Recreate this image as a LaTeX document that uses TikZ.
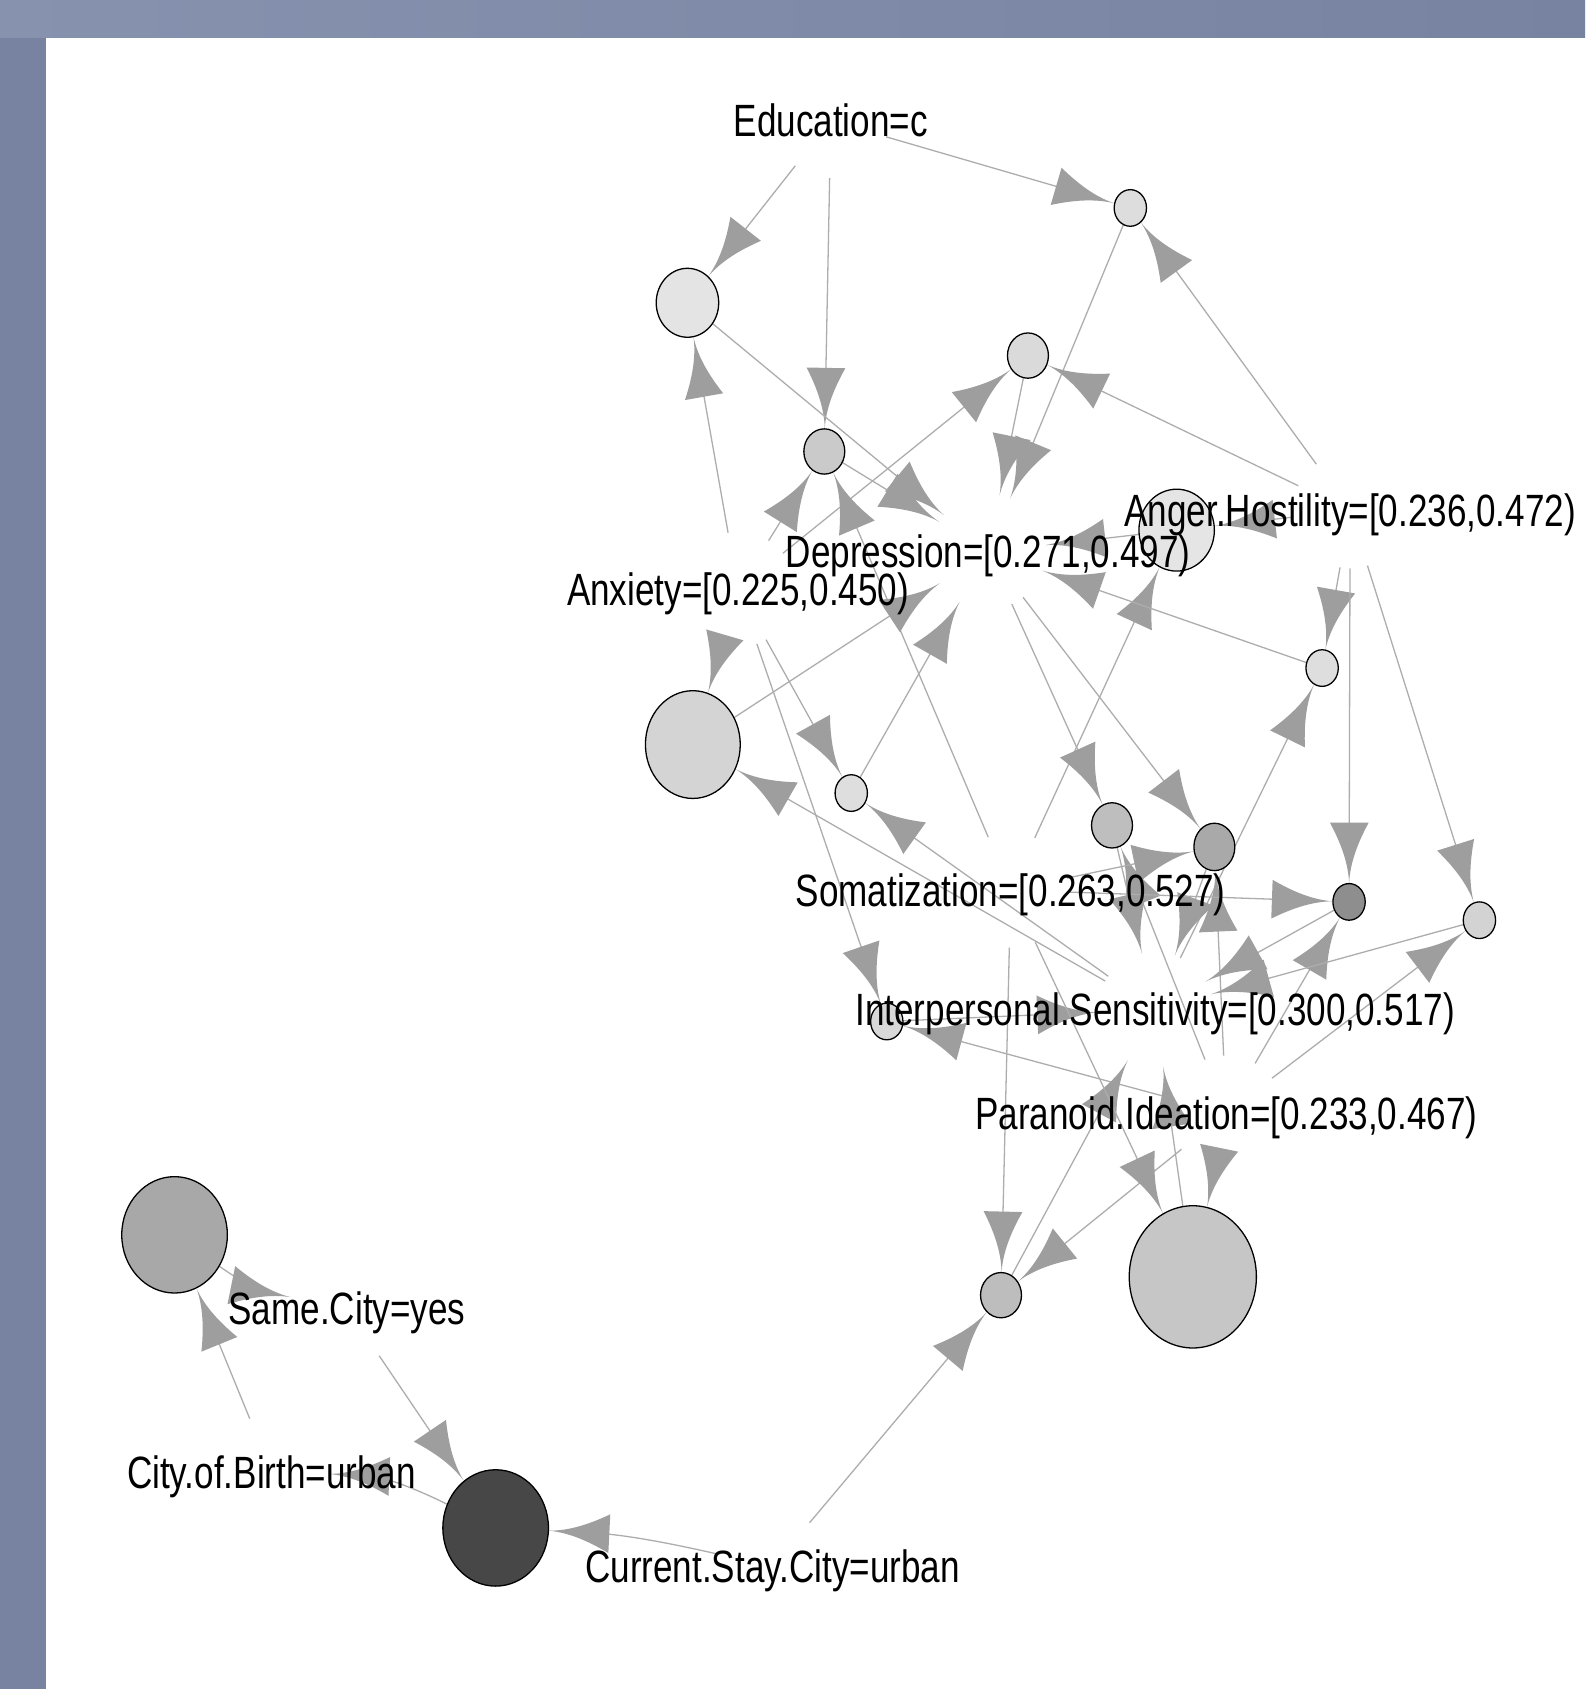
\documentclass[tikz,border=0pt]{standalone}
\usepackage{fontspec}
\newfontfamily\labfont[FakeStretch=0.775]{Liberation Sans}
\usetikzlibrary{arrows.meta,shapes.geometric}
\pgfdeclarelayer{bg}
\pgfdeclarelayer{edges}
\pgfsetlayers{bg,edges,main}
\definecolor{framecol}{HTML}{7883A2}
\definecolor{framelight}{HTML}{8792AF}
\definecolor{edgegray}{HTML}{ADADAD}
\definecolor{arrowgray}{HTML}{9E9E9E}
\pgfdeclarearrow{
  name = Para,
  parameters = {\the\pgfarrowlength,\the\pgfarrowwidth},
  setup code = {
    \pgfarrowssettipend{\pgfarrowlength}
    \pgfarrowssetbackend{0pt}
    \pgfarrowssetlineend{0.3\pgfarrowlength}
    \pgfarrowshullpoint{\pgfarrowlength}{0pt}
    \pgfarrowshullpoint{0pt}{.5\pgfarrowwidth}
    \pgfarrowshullpoint{0pt}{-.5\pgfarrowwidth}
    \pgfarrowssavethe\pgfarrowlength
    \pgfarrowssavethe\pgfarrowwidth
  },
  drawing code = {
    \pgfpathmoveto{\pgfqpoint{\pgfarrowlength}{0pt}}
    \pgfpathcurveto{\pgfqpoint{0.66\pgfarrowlength}{0.025\pgfarrowwidth}}{\pgfqpoint{0.33\pgfarrowlength}{0.225\pgfarrowwidth}}{\pgfqpoint{0pt}{0.5\pgfarrowwidth}}
    \pgfpathlineto{\pgfqpoint{0pt}{-0.5\pgfarrowwidth}}
    \pgfpathcurveto{\pgfqpoint{0.33\pgfarrowlength}{-0.225\pgfarrowwidth}}{\pgfqpoint{0.66\pgfarrowlength}{-0.025\pgfarrowwidth}}{\pgfqpoint{\pgfarrowlength}{0pt}}
    \pgfpathclose
    \pgfusepathqfill
  },
  defaults = {length = 28pt, width = 18pt}
}
\tikzset{
  rulev/.style={ellipse, draw=black, line width=0.6pt, inner sep=0pt},
  itemv/.style={circle, minimum size=53pt, inner sep=0pt, draw=none},
  lbl/.style={font=\labfont\fontsize{21}{21}\selectfont, inner sep=0pt, text height=15pt, text depth=0pt, text=black},
  conn/.style={draw=edgegray, line width=0.6pt, -{Para[color=arrowgray]}},
}
\begin{document}
\begin{tikzpicture}[x=0.5pt,y=-0.5pt]
\useasboundingbox (0,0) rectangle (1471,1567.5);
\begin{pgfonlayer}{bg}
\fill[framecol] (0,0) rectangle (1471,1567.5);
\shade[left color=framelight, right color=framecol] (0,0) rectangle (1471,35);
\fill[white] (43,35) rectangle (1471,1567.5);
\end{pgfonlayer}

% item vertices (invisible)
\node[itemv] (edu) at (771,112) {};
\node[itemv] (dep) at (917,512) {};
\node[itemv] (ang) at (1253,474) {};
\node[itemv] (anx) at (685,547) {};
\node[itemv] (som) at (938,826) {};
\node[itemv] (ips) at (1072,937) {};
\node[itemv] (par) at (1138,1033) {};
\node[itemv] (same) at (322,1214) {};
\node[itemv] (cob) at (252,1366) {};
\node[itemv] (cur) at (717,1454) {};

% rule vertices
\node[rulev, fill={rgb,255:red,228;green,228;blue,228}, minimum width=29pt, minimum height=32pt] (r1) at (638,281) {};
\node[rulev, fill={rgb,255:red,221;green,221;blue,221}, minimum width=15pt, minimum height=17pt] (r2) at (1049,193) {};
\node[rulev, fill={rgb,255:red,218;green,218;blue,218}, minimum width=19pt, minimum height=21pt] (r3) at (954,330) {};
\node[rulev, fill={rgb,255:red,202;green,202;blue,202}, minimum width=19pt, minimum height=21pt] (r4) at (765,419) {};
\node[rulev, fill={rgb,255:red,229;green,229;blue,229}, minimum width=35pt, minimum height=38pt] (r5) at (1092,492) {};
\node[rulev, fill={rgb,255:red,212;green,212;blue,212}, minimum width=44pt, minimum height=50pt] (r6) at (643,691) {};
\node[rulev, fill={rgb,255:red,222;green,222;blue,222}, minimum width=15pt, minimum height=17pt] (r7) at (790,736) {};
\node[rulev, fill={rgb,255:red,222;green,222;blue,222}, minimum width=15pt, minimum height=17pt] (r8) at (1227,620) {};
\node[rulev, fill={rgb,255:red,190;green,190;blue,190}, minimum width=19pt, minimum height=21pt] (r9) at (1032,766) {};
\node[rulev, fill={rgb,255:red,169;green,169;blue,169}, minimum width=19pt, minimum height=22pt] (r10) at (1127,786) {};
\node[rulev, fill={rgb,255:red,142;green,142;blue,142}, minimum width=15pt, minimum height=17pt] (r11) at (1252,837) {};
\node[rulev, fill={rgb,255:red,211;green,211;blue,211}, minimum width=15pt, minimum height=17pt] (r12) at (1373,854) {};
\node[rulev, fill={rgb,255:red,216;green,216;blue,216}, minimum width=15pt, minimum height=17pt] (r13) at (823,948) {};
\node[rulev, fill={rgb,255:red,189;green,189;blue,189}, minimum width=19pt, minimum height=21pt] (r14) at (929,1202) {};
\node[rulev, fill={rgb,255:red,198;green,198;blue,198}, minimum width=59pt, minimum height=66pt] (r15) at (1107,1185) {};
\node[rulev, fill={rgb,255:red,168;green,168;blue,168}, minimum width=49pt, minimum height=54pt] (r16) at (162,1146) {};
\node[rulev, fill={rgb,255:red,71;green,71;blue,71}, minimum width=49pt, minimum height=54pt] (r17) at (460,1418) {};

\begin{pgfonlayer}{edges}
\draw[conn] (edu) -- (r1);
\draw[conn] (edu) -- (r2);
\draw[conn] (edu) -- (r4);
\draw[conn] (anx) -- (r1);
\draw[conn] (r1) -- (dep);
\draw[conn] (ang) -- (r2);
\draw[conn] (r2) -- (dep);
\draw[conn] (anx) -- (r3);
\draw[conn] (ang) -- (r3);
\draw[conn] (r3) -- (dep);
\draw[conn] (anx) -- (r4);
\draw[conn] (som) -- (r4);
\draw[conn] (r4) -- (dep);
\draw[conn] (ang) -- (r5);
\draw[conn] (som) -- (r5);
\draw[conn] (r5) -- (dep);
\draw[conn] (anx) -- (r6);
\draw[conn] (ips) -- (r6);
\draw[conn] (r6) -- (dep);
\draw[conn] (anx) -- (r7);
\draw[conn] (ips) -- (r7);
\draw[conn] (r7) -- (dep);
\draw[conn] (ang) -- (r8);
\draw[conn] (ips) -- (r8);
\draw[conn] (r8) -- (dep);
\draw[conn] (dep) -- (r9);
\draw[conn] (par) -- (r9);
\draw[conn] (r9) -- (ips);
\draw[conn] (dep) -- (r10);
\draw[conn] (som) -- (r10);
\draw[conn] (par) -- (r10);
\draw[conn] (r10) -- (ips);
\draw[conn] (ang) -- (r11);
\draw[conn] (som) -- (r11);
\draw[conn] (par) -- (r11);
\draw[conn] (r11) -- (ips);
\draw[conn] (ang) -- (r12);
\draw[conn] (par) -- (r12);
\draw[conn] (r12) -- (ips);
\draw[conn] (anx) -- (r13);
\draw[conn] (par) -- (r13);
\draw[conn] (r13) -- (ips);
\draw[conn] (som) -- (r14);
\draw[conn] (par) -- (r14);
\draw[conn] (cur) -- (r14);
\draw[conn] (r14) -- (ips);
\draw[conn] (som) -- (r15);
\draw[conn] (par) -- (r15);
\draw[conn] (r15) -- (ips);
\draw[conn] (cob) -- (r16);
\draw[conn] (r16) to[bend right=12] (same);
\draw[conn] (same) -- (r17);
\draw[conn] (cur) to[bend right=5] (r17);
\draw[conn] (r17) to[bend right=12] (cob);
\end{pgfonlayer}

% labels
\node[lbl] (edu-l) at (771,112) {Education=c};
\node[lbl] (dep-l) at (917,512) {Depression=[0.271,0.497)};
\node[lbl] (ang-l) at (1253,474) {Anger.Hostility=[0.236,0.472)};
\node[lbl] (anx-l) at (685,547) {Anxiety=[0.225,0.450)};
\node[lbl] (som-l) at (938,826) {Somatization=[0.263,0.527)};
\node[lbl] (ips-l) at (1072,937) {Interpersonal.Sensitivity=[0.300,0.517)};
\node[lbl] (par-l) at (1138,1033) {Paranoid.Ideation=[0.233,0.467)};
\node[lbl] (same-l) at (322,1214) {Same.City=yes};
\node[lbl] (cob-l) at (252,1366) {City.of.Birth=urban};
\node[lbl] (cur-l) at (717,1454) {Current.Stay.City=urban};
\end{tikzpicture}
\end{document}
